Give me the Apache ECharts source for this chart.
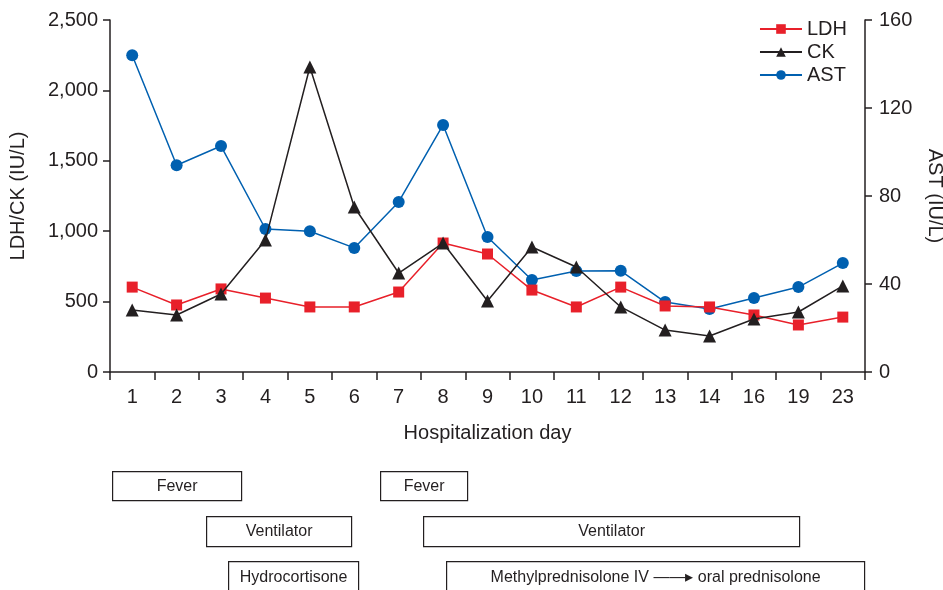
<!DOCTYPE html>
<html>
<head>
<meta charset="utf-8">
<script src="https://cdn.jsdelivr.net/npm/echarts@6/dist/echarts.min.js"></script>
<style>html,body{margin:0;padding:0;background:#fff}#c{width:943px;height:590px}</style>
</head>
<body>
<div id="c"></div>
<script>
var days = ['1','2','3','4','5','6','7','8','9','10','11','12','13','14','16','19','23'];
var ldh = [603,476,590,525,462,462,568,916,838,582,462,603,469,462,405,334,390];
var ck  = [440,405,554,937,2166,1172,703,916,504,888,746,462,298,256,376,426,611];
var ast = [144,94,102.7,65,64,56.4,77.3,112.3,61.4,41.8,45.9,46,31.8,28.6,33.6,38.6,49.5];
var leftTicks = [0,500,1000,1500,2000,2500];
var rightTicks = [0,40,80,120,160];
var boxes = [
  {label:'Fever', x:112, y:471, w:129, h:29},
  {label:'Fever', x:380, y:471, w:87, h:29},
  {label:'Ventilator', x:206, y:516, w:145, h:30},
  {label:'Ventilator', x:423, y:516, w:376, h:30},
  {label:'Hydrocortisone', x:228, y:561, w:130, h:32},
  {label:'Methylprednisolone IV \u2014\u2014\u25B8 oral prednisolone', x:446, y:561, w:418, h:32}
];

var FONT = '"Liberation Sans", Arial, Helvetica, sans-serif';
var TXT = '#231f20';
var FS = 20;
var chart = echarts.init(document.getElementById('c'));
var graphics = boxes.map(function(b){
  return {
    type:'group', left:b.x, top:b.y,
    children:[
      {type:'rect', shape:{x:0,y:0,width:b.w,height:b.h}, style:{fill:'#fff', stroke:'#231f20', lineWidth:1.2}},
      {type:'text', x:b.w/2, y:b.h/2, style:{text:b.label, fill:TXT, font:'16px '+FONT, align:'center', verticalAlign:'middle'}}
    ]
  };
});
chart.setOption({
  animation:false,
  backgroundColor:'#fff',
  textStyle:{fontFamily:FONT},
  grid:{left:110, right:78, top:20, bottom:218, containLabel:false, outerBoundsMode:'none'},
  legend:{
    orient:'vertical', right:91, top:14, itemGap:3, itemWidth:42, itemHeight:12,
    textStyle:{fontSize:FS, color:TXT, fontFamily:FONT},
    data:['LDH','CK','AST']
  },
  xAxis:{
    type:'category', data:days, boundaryGap:true,
    name:'Hospitalization day', nameLocation:'middle', nameGap:51,
    nameTextStyle:{fontSize:FS, color:TXT, fontFamily:FONT},
    axisLine:{lineStyle:{color:TXT, width:1.5}},
    axisTick:{show:true, length:8, lineStyle:{color:TXT, width:1.5}},
    axisLabel:{fontSize:FS, color:TXT, margin:15, fontFamily:FONT, interval:0},
    splitLine:{show:false}
  },
  yAxis:[{
    type:'value', min:0, max:2500, interval:500, position:'left',
    name:'LDH/CK (IU/L)', nameLocation:'middle', nameGap:82, nameRotate:90,
    nameTextStyle:{fontSize:FS, color:TXT, fontFamily:FONT},
    axisLine:{show:true, lineStyle:{color:TXT, width:1.5}},
    axisTick:{show:true, length:7, lineStyle:{color:TXT, width:1.5}},
    axisLabel:{fontSize:FS, color:TXT, margin:12, fontFamily:FONT,
      formatter:function(v){ return leftTicks.indexOf(v)>=0 ? v.toLocaleString('en-US') : ''; }},
    splitLine:{show:false}
  },{
    type:'value', min:0, max:160, interval:40, position:'right',
    name:'AST (IU/L)', nameLocation:'middle', nameGap:60, nameRotate:-90,
    nameTextStyle:{fontSize:FS, color:TXT, fontFamily:FONT},
    axisLine:{show:true, lineStyle:{color:TXT, width:1.5}},
    axisTick:{show:true, length:7, lineStyle:{color:TXT, width:1.5}},
    axisLabel:{fontSize:FS, color:TXT, margin:14, fontFamily:FONT,
      formatter:function(v){ return rightTicks.indexOf(v)>=0 ? String(v) : ''; }},
    splitLine:{show:false}
  }],
  series:[
    {name:'LDH', type:'line', data:ldh, yAxisIndex:0, symbol:'rect', symbolSize:11,
     itemStyle:{color:'#e8202a'}, lineStyle:{color:'#e8202a', width:1.5}, z:3},
    {name:'CK', type:'line', data:ck, yAxisIndex:0, symbol:'triangle', symbolSize:13,
     itemStyle:{color:'#231f20'}, lineStyle:{color:'#231f20', width:1.5}, z:4},
    {name:'AST', type:'line', data:ast, yAxisIndex:1, symbol:'circle', symbolSize:12,
     itemStyle:{color:'#0060b0'}, lineStyle:{color:'#0060b0', width:1.5}, z:2}
  ],
  graphic:graphics
});
</script>
</body>
</html>
